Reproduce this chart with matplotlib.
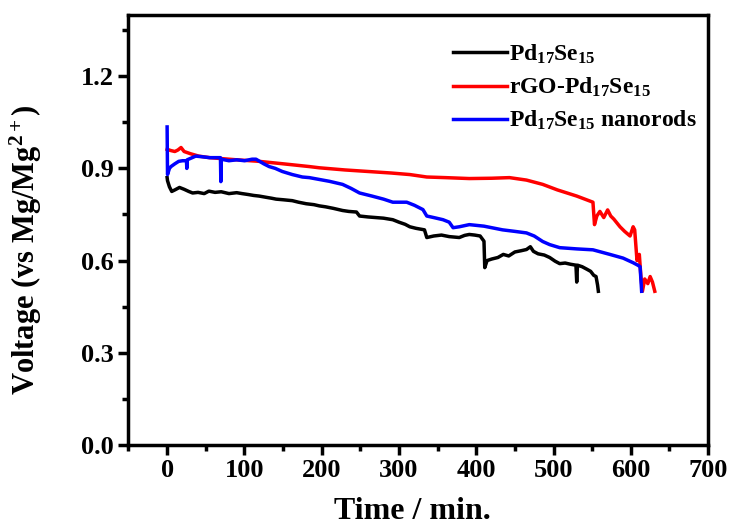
import matplotlib
matplotlib.use('Agg')
import matplotlib.pyplot as plt
from matplotlib.ticker import MultipleLocator

plt.rcParams['font.family'] = ['Liberation Serif', 'DejaVu Serif']
plt.rcParams['font.weight'] = 'bold'
plt.rcParams['mathtext.fontset'] = 'custom'
plt.rcParams['mathtext.rm'] = 'Liberation Serif:bold'
plt.rcParams['mathtext.bf'] = 'Liberation Serif:bold'
plt.rcParams['mathtext.it'] = 'Liberation Serif:bold'

# Pd17Se15 (black)
t_pd = [0, 0.5, 3, 6, 10, 16, 22, 28, 33, 40, 48, 54, 62, 70, 80, 90, 97, 105,
        112, 119, 128, 135, 141, 150, 162, 170, 180, 190, 197, 205, 215, 227,
        235, 245, 249, 260, 270, 280, 292, 300, 308, 314, 322, 333, 336, 345,
        355, 365, 378, 385, 391, 398, 405, 410, 411, 414, 420, 428, 435, 442,
        450, 458, 465, 470, 474, 480, 488, 495, 502, 508, 515, 522, 529, 530,
        531, 537, 543, 548, 552, 555, 557, 558]
v_pd = [0.87, 0.86, 0.84, 0.825, 0.83, 0.838, 0.832, 0.825, 0.82, 0.822, 0.818,
        0.826, 0.822, 0.824, 0.818, 0.821, 0.818, 0.815, 0.812, 0.81, 0.806,
        0.803, 0.80, 0.798, 0.795, 0.79, 0.785, 0.782, 0.778, 0.775, 0.77,
        0.763, 0.76, 0.758, 0.745, 0.742, 0.74, 0.738, 0.733, 0.725, 0.718,
        0.71, 0.705, 0.70, 0.675, 0.68, 0.683, 0.678, 0.675, 0.682, 0.685,
        0.683, 0.68, 0.663, 0.577, 0.60, 0.605, 0.61, 0.62, 0.615, 0.628,
        0.632, 0.636, 0.645, 0.63, 0.622, 0.618, 0.61, 0.598, 0.59, 0.592,
        0.588, 0.585, 0.53, 0.585, 0.58, 0.572, 0.565, 0.552, 0.548, 0.52, 0.50]

# rGO-Pd17Se15 (red)
t_rgo = [0, 5, 10, 14, 18, 22, 30, 41, 55, 70, 90, 119, 150, 184, 197, 230, 260,
         290, 314, 336, 360, 391, 420, 443, 465, 486, 505, 530, 551, 553, 556,
         560, 565, 570, 574, 578, 586, 592, 599, 603, 605, 608, 611, 613, 615,
         618, 622, 625, 628, 631]
v_rgo = [0.962, 0.958, 0.955, 0.96, 0.968, 0.955, 0.948, 0.94, 0.935, 0.932,
         0.928, 0.923, 0.915, 0.906, 0.902, 0.895, 0.89, 0.885, 0.88, 0.872,
         0.87, 0.867, 0.868, 0.87, 0.862, 0.848, 0.83, 0.81, 0.79, 0.717, 0.745,
         0.76, 0.74, 0.765, 0.745, 0.735, 0.71, 0.695, 0.68, 0.71, 0.70, 0.60,
         0.62, 0.55, 0.50, 0.54, 0.525, 0.548, 0.53, 0.50]

# Pd17Se15 nanorods (blue)
t_rod = [0, 0.5, 3, 5, 10, 15, 20, 25, 25.5, 26, 37, 45, 55, 65, 69, 69.5, 70,
         80, 90, 100, 110, 115, 125, 132, 140, 149, 162, 175, 184, 197, 210,
         227, 238, 249, 265, 280, 292, 310, 320, 331, 336, 345, 357, 365, 370,
         378, 391, 410, 434, 450, 465, 475, 486, 495, 508, 530, 551, 573, 590,
         603, 609, 612, 614]
v_rod = [1.035, 0.88, 0.90, 0.906, 0.915, 0.923, 0.925, 0.925, 0.90, 0.928,
         0.94, 0.938, 0.935, 0.935, 0.935, 0.857, 0.93, 0.925, 0.928, 0.925,
         0.93, 0.93, 0.915, 0.906, 0.90, 0.89, 0.88, 0.872, 0.87, 0.864, 0.858,
         0.848, 0.835, 0.82, 0.81, 0.80, 0.79, 0.79, 0.78, 0.766, 0.745, 0.74,
         0.733, 0.725, 0.707, 0.71, 0.717, 0.712, 0.70, 0.695, 0.69, 0.68,
         0.662, 0.652, 0.642, 0.638, 0.635, 0.62, 0.608, 0.593, 0.585, 0.58, 0.50]

fig = plt.figure(figsize=(7.3, 5.29), dpi=100)
ax = fig.add_axes([0.176, 0.159, 0.794, 0.813])

ax.plot(t_pd, v_pd, color='black', lw=2.5, label=r'Pd$_{17}$Se$_{15}$')
ax.plot(t_rgo, v_rgo, color='#ff0000', lw=2.5, label=r'rGO-Pd$_{17}$Se$_{15}$')
ax.plot(t_rod, v_rod, color='#0000ff', lw=2.5, label=r'Pd$_{17}$Se$_{15}$ nanorods')

ax.set_xlim(-50, 700)
ax.set_ylim(0, 1.4)
ax.xaxis.set_major_locator(MultipleLocator(100))
ax.xaxis.set_minor_locator(MultipleLocator(50))
ax.yaxis.set_major_locator(MultipleLocator(0.3))
ax.yaxis.set_minor_locator(MultipleLocator(0.15))
ax.yaxis.set_major_formatter(matplotlib.ticker.FormatStrFormatter('%.1f'))

for s in ax.spines.values():
    s.set_linewidth(2.5)
ax.tick_params(which='major', direction='out', length=7, width=2.5, labelsize=19)
ax.tick_params(which='minor', direction='out', length=4, width=2.5)
ax.tick_params(top=False, right=False, which='both')

ax.set_xlabel('Time / min.', fontsize=23, fontweight='bold')
ax.xaxis.set_label_coords(0.49, -0.122)
ax.set_ylabel(r'Voltage (vs Mg/Mg$^{\mathbf{2+}}$)', fontsize=22, fontweight='bold')
ax.yaxis.set_label_coords(-0.145, 0.455)

leg = ax.legend(loc='upper right', bbox_to_anchor=(1.005, 0.968), frameon=False,
                fontsize=17, handlelength=2.3, handletextpad=0.1,
                labelspacing=0.42, borderaxespad=0.2)
for line in leg.get_lines():
    line.set_linewidth(2.5)

fig.savefig('out.png', dpi=100)
